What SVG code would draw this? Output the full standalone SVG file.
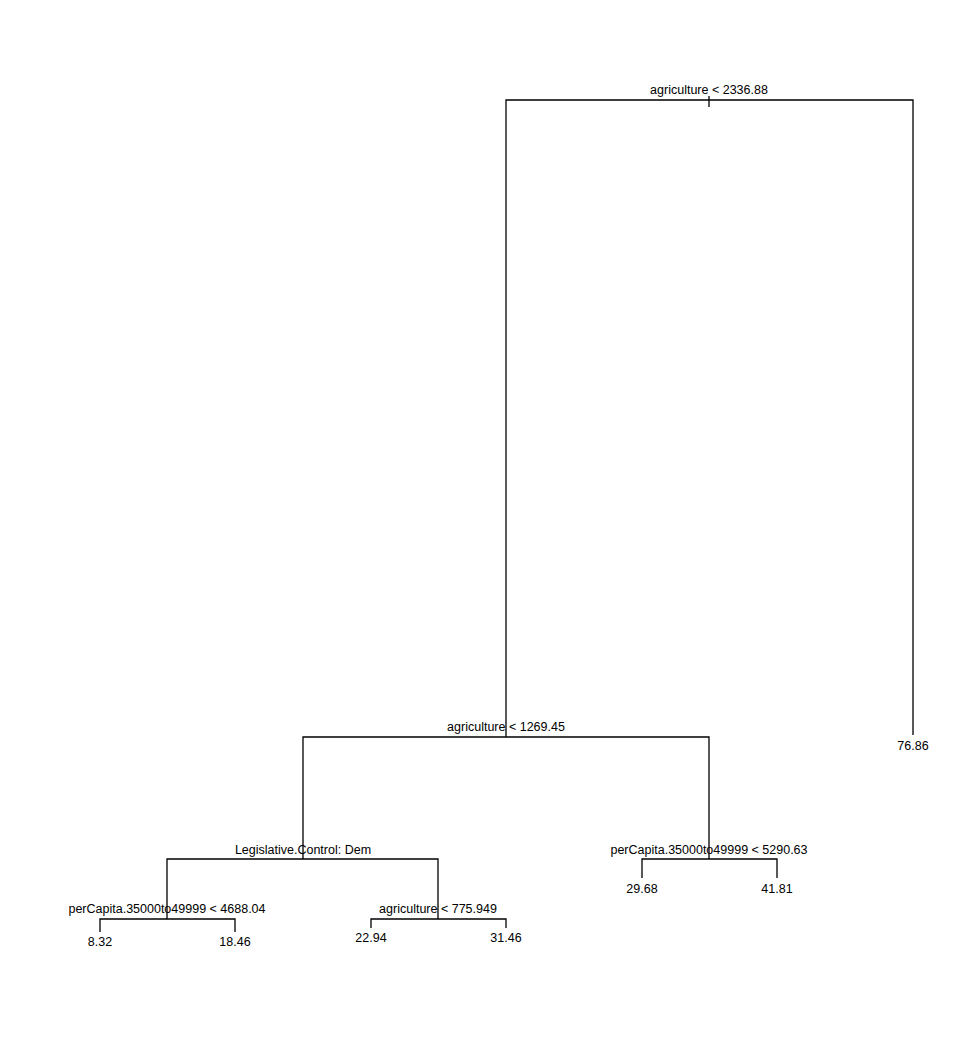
<svg xmlns="http://www.w3.org/2000/svg" width="980" height="1048" viewBox="0 0 980 1048">
<style>
.e{stroke:#000;stroke-width:1.3;fill:none}
text{font-family:"Liberation Sans",Arial,sans-serif;font-size:12.5px;fill:#000;text-anchor:middle}
</style>
<rect width="980" height="1048" fill="#fff"/>
<g id="connectors">
<path class="e" d="M709,96V107"/>
<path class="e" d="M506,737V100H913V735"/>
<path class="e" d="M303,859V737H709V859"/>
<path class="e" d="M167,919V859H438V919"/>
<path class="e" d="M642,878V859H777V878"/>
<path class="e" d="M100,932V919H235V932"/>
<path class="e" d="M371,928V919H506V928"/>
</g>
<g id="n1"><text x="709" y="94">agriculture &lt; 2336.88</text></g>
<g id="n2"><text x="506" y="731">agriculture &lt; 1269.45</text></g>
<g id="n3"><text x="913" y="750">76.86</text></g>
<g id="n4"><text x="303" y="854">Legislative.Control: Dem</text></g>
<g id="n5"><text x="709" y="854">perCapita.35000to49999 &lt; 5290.63</text></g>
<g id="n6"><text x="167" y="913">perCapita.35000to49999 &lt; 4688.04</text></g>
<g id="n7"><text x="438" y="913">agriculture &lt; 775.949</text></g>
<g id="n8"><text x="642" y="893">29.68</text></g>
<g id="n9"><text x="777" y="893">41.81</text></g>
<g id="n10"><text x="100" y="946">8.32</text></g>
<g id="n11"><text x="235" y="946">18.46</text></g>
<g id="n12"><text x="371" y="942">22.94</text></g>
<g id="n13"><text x="506" y="942">31.46</text></g>
</svg>
